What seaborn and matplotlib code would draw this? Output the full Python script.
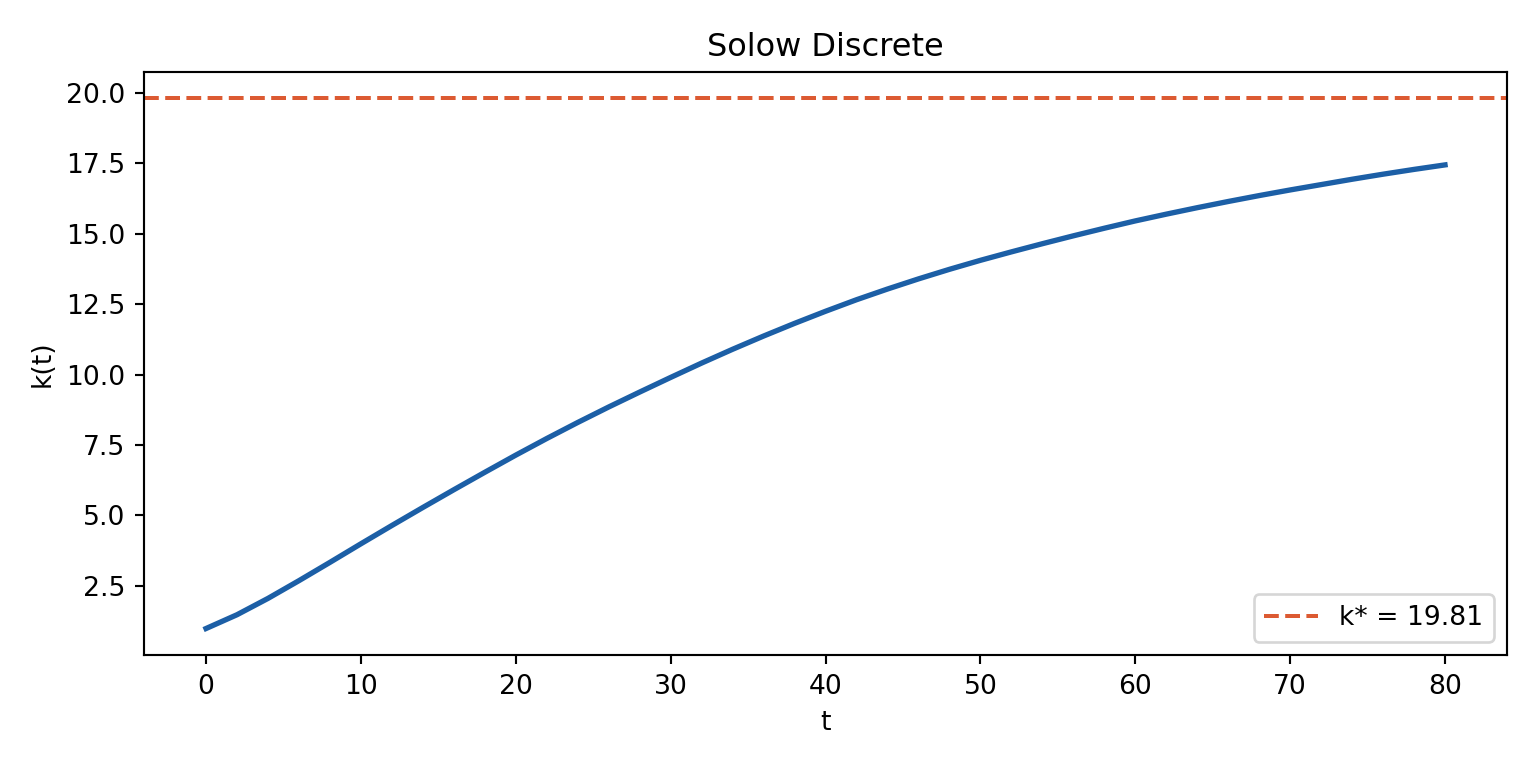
import numpy as np
import pandas as pd
import matplotlib
matplotlib.use("Agg")
import matplotlib.pyplot as plt
import seaborn as sns

# k(t), every second period
periods = [0, 2, 4, 6, 8, 10, 12, 14, 16, 18, 20, 22, 24, 26, 28, 30, 32, 34, 36, 38, 40,
           42, 44, 46, 48, 50, 52, 54, 56, 58, 60, 62, 64, 66, 68, 70, 72, 74, 76, 78, 80]
capital = [0.98, 1.47, 2.05, 2.68, 3.33, 3.99, 4.64, 5.28, 5.91, 6.53, 7.14, 7.73, 8.30,
           8.85, 9.38, 9.90, 10.41, 10.90, 11.37, 11.82, 12.25, 12.66, 13.04, 13.40, 13.74,
           14.06, 14.36, 14.65, 14.93, 15.20, 15.46, 15.70, 15.93, 16.15, 16.36, 16.56,
           16.75, 16.94, 17.12, 17.29, 17.45]
k_star = 19.81

df = pd.DataFrame({"t": periods, "k": capital})

fig, ax = plt.subplots(figsize=(8, 4), dpi=192)
sns.lineplot(data=df, x="t", y="k", color="#1c5fa6", linewidth=2, ax=ax)
ax.axhline(k_star, color="#dc5a32", linestyle="--", linewidth=1.5, label=f"k* = {k_star:.2f}")

ax.set_title("Solow Discrete")
ax.set_xlabel("t")
ax.set_ylabel("k(t)")
ax.legend(loc="lower right")
fig.subplots_adjust(left=0.0938, right=0.9811, bottom=0.1471, top=0.9063)
plt.savefig("out.png")
